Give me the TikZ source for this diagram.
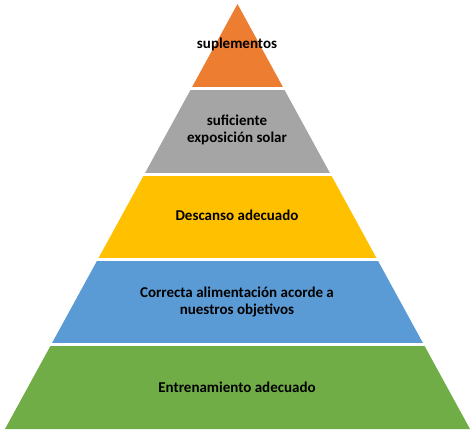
\documentclass[tikz,border=0pt]{standalone}
\usepackage{fontspec}
\setmainfont{Carlito}
\usepackage{tikz}

\definecolor{tierorange}{HTML}{ED7D31}
\definecolor{tiergray}{HTML}{A5A5A5}
\definecolor{tieryellow}{HTML}{FFC000}
\definecolor{tierblue}{HTML}{5B9BD5}
\definecolor{tiergreen}{HTML}{70AD47}

\begin{document}
\begin{tikzpicture}[x=1pt, y=-1pt]

	\tikzstyle{gap} = [draw=white, line width=3pt]
	\tikzstyle{tier_label} = [font=\fontsize{15}{17.5}\selectfont\bfseries, align=center, text=black]

	\useasboundingbox (0,0) rectangle (474,432);
%------------------------------------------------------------
	\fill[tiergreen]  (51.5,344) -- (423.5,344) -- (470,429) -- (5,429) -- cycle;
	\fill[tierblue]   (98,259) -- (377,259) -- (423.5,344) -- (51.5,344) -- cycle;
	\fill[tieryellow] (144.5,174) -- (330.5,174) -- (377,259) -- (98,259) -- cycle;
	\fill[tiergray]   (191,89) -- (284,89) -- (330.5,174) -- (144.5,174) -- cycle;
	\fill[tierorange] (237.5,4) -- (284,89) -- (191,89) -- cycle;
%------------------------------------------------------------
	\draw[gap] (40,344) -- (435,344);
	\draw[gap] (85,259) -- (390,259);
	\draw[gap] (130,174) -- (345,174);
	\draw[gap] (180,88) -- (295,88);
%------------------------------------------------------------
	\node[tier_label] (supl) at (237,44) {suplementos};
	\node[tier_label] (sol) at (237,130) {suficiente\\exposición solar};
	\node[tier_label] (desc) at (237,215) {Descanso adecuado};
	\node[tier_label] (alim) at (237,302) {Correcta alimentación acorde a\\nuestros objetivos};
	\node[tier_label] (entr) at (237,387) {Entrenamiento adecuado};

\end{tikzpicture}
\end{document}
